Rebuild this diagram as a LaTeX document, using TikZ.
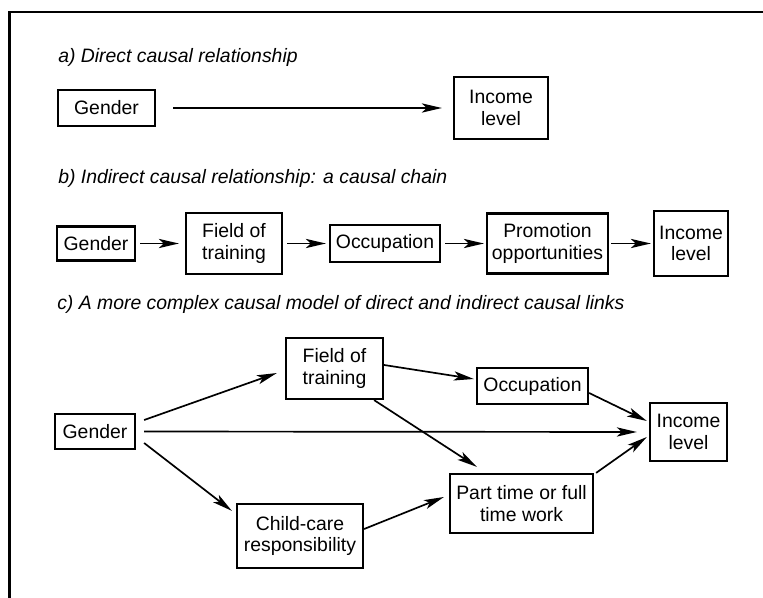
\documentclass[tikz,border=0pt]{standalone}
\usepackage{fontspec}
\setmainfont{Liberation Sans}
\usetikzlibrary{arrows.meta}

\begin{document}
\begin{tikzpicture}[
    x = 0.25mm, y = -0.25mm,
    font = \fontsize{13.8}{15.5}\selectfont,
    box/.style = {
      rectangle, draw = black, line width = 1.6pt,
      inner sep = 0mm, align = center,
    },
    link/.style = {
      line width = 1.2pt,
      -{Stealth[length = 5mm, width = 2.3mm, inset = 1.2mm]},
    },
    heading/.style = {
      anchor = base west, inner sep = 0mm,
      font = \fontsize{13.8}{15.5}\selectfont\itshape,
    },
  ]

  \useasboundingbox (0,0) rectangle (763,598);
  \draw[line width = 2pt] (9.5,598) -- (9.5,12) -- (763,12);

  % a) direct
  \node[heading] (hA) at (58,62) {a) Direct causal relationship};
  \node[box, minimum width = 24.25mm, minimum height = 9mm] (gA) at (106.5,108) {Gender};
  \node[box, minimum width = 23.5mm, minimum height = 15.5mm] (iA) at (501,108) {Income\\level};
  \draw[link, shorten < = 4.25mm, shorten > = 2.75mm] (gA) -- (iA);

  % b) causal chain
  \node[heading] (hB) at (58,183) {b) Indirect causal relationship: a causal chain};
  \node[box, minimum width = 19.5mm, minimum height = 8.5mm] (gB) at (96,243.5) {Gender};
  \node[box, minimum width = 24mm, minimum height = 15.25mm] (fB) at (234,243.5) {Field of\\training};
  \node[box, minimum width = 27.5mm, minimum height = 9.25mm] (oB) at (385,243.5) {Occupation};
  \node[box, minimum width = 30.25mm, minimum height = 15mm] (pB) at (547.5,243.5) {Promotion\\opportunities};
  \node[box, minimum width = 18.5mm, minimum height = 16.25mm] (iB) at (691,243.5) {Income\\level};
  \draw[link, shorten < = 1mm, shorten > = 1.5mm] (gB) -- (fB);
  \draw[link, shorten < = 1mm, shorten > = 0.75mm] (fB) -- (oB);
  \draw[link, shorten < = 1mm, shorten > = 0.5mm] (oB) -- (pB);
  \draw[link, shorten < = 0.5mm, shorten > = 0.5mm] (pB) -- (iB);

  % c) direct and indirect links
  \node[heading] (hC) at (57,309) {c) A more complex causal model of direct and indirect causal links};
  \node[box, minimum width = 20mm, minimum height = 8.75mm] (gC) at (95,431.5) {Gender};
  \node[box, minimum width = 24.25mm, minimum height = 15.25mm] (fC) at (334.5,368.5) {Field of\\training};
  \node[box, minimum width = 31.5mm, minimum height = 16mm] (cC) at (300,536) {Child-care\\responsibility};
  \node[box, minimum width = 27.75mm, minimum height = 9mm] (oC) at (532.5,386) {Occupation};
  \node[box, minimum width = 35.75mm, minimum height = 14.75mm] (pC) at (521.5,503.5) {Part time or full\\time work};
  \node[box, minimum width = 19.25mm, minimum height = 14.5mm] (iC) at (688.5,432) {Income\\level};

  \draw[link] ([shift = {(8,-11.5)}]gC.east) -- ([shift = {(-8,4.5)}]fC.west);
  \draw[link, shorten < = 2mm, shorten > = 3mm] (gC.east) -- (iC.west);
  \draw[link] ([shift = {(8,11.5)}]gC.east) -- ([shift = {(-4,8)}]cC.north west);
  \draw[link] ([shift = {(0,-3.5)}]fC.east) -- ([shift = {(-2,-7)}]oC.west);
  \draw[link] ([shift = {(-10,0)}]fC.south east) -- ([shift = {(28,-6)}]pC.north west);
  \draw[link] ([shift = {(0,-7)}]cC.east) -- ([shift = {(-5,-6.5)}]pC.west);
  \draw[link] ([shift = {(0,7)}]oC.east) -- ([shift = {(-2,-11)}]iC.west);
  \draw[link] ([shift = {(2,0)}]pC.north east) -- ([shift = {(-2,5)}]iC.west);
\end{tikzpicture}
\end{document}
